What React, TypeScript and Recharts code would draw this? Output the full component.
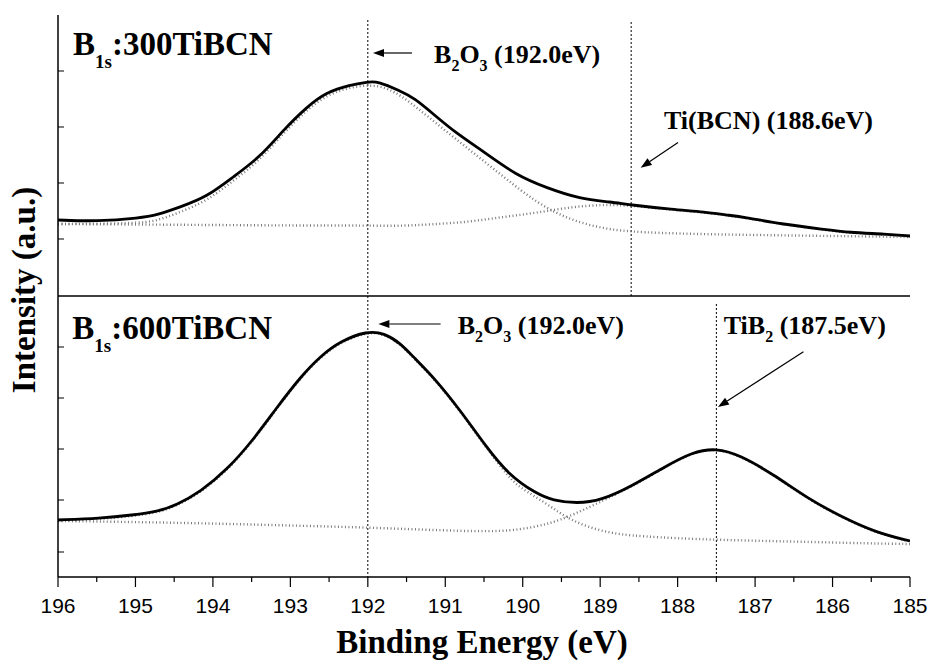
import React from 'react';
import { ComposedChart, Line, XAxis, YAxis, ReferenceLine, ReferenceDot } from 'recharts';

// ---------- data (binding energy in eV, intensity in arbitrary units) ----------
// Sample 300TiBCN (upper panel)
const energy300 = [196, 195.5, 194.94, 194.72, 194.42, 194.08, 193.74, 193.39, 193.09, 192.79, 192.53, 192.23, 192.0, 191.88, 191.58, 191.4, 191.14, 190.88, 190.48, 190.09, 189.69, 189.26, 188.86, 188.6, 188.07, 187.64, 187.37, 187.15, 186.67, 186.1, 185.79, 185.31, 185.0];
const measured300 = [76, 74.5, 78, 81, 89, 99, 119, 139, 166, 189, 204, 211, 214, 215, 205, 198, 181, 164, 143, 121, 108, 97, 94, 91, 86.5, 84, 81, 79, 72, 66.5, 63.5, 62, 60];

const energy300B2O3 = [196, 195, 194.72, 194.42, 194.08, 193.74, 193.39, 193.09, 192.79, 192.53, 192.23, 191.88, 191.58, 191.14, 190.7, 190.26, 189.82, 189.39, 188.95, 188.51, 187.5, 186.5, 185.5, 185];
const fit300B2O3 = [72, 72.5, 75, 84, 95, 115, 136, 163, 186, 201, 209, 212, 202, 174, 147, 120, 93, 76, 67, 63.5, 61.5, 60.5, 59.5, 59];

const energy300TiBCN = [196, 195, 194, 193, 192, 191.58, 191.2, 190.7, 190.26, 189.83, 189.39, 188.95, 188.6, 188.07, 187.64, 187.37, 187.15, 186.67, 186.1, 185.79, 185.31, 185];
const fit300TiBCN = [72, 71.5, 71, 70.5, 70.5, 70, 71.5, 74, 79, 83, 89, 91.5, 90.5, 86, 83.5, 80.5, 78.5, 72, 66, 63, 61.5, 59.5];

// Sample 600TiBCN (lower panel)
const energy600 = [196, 195.46, 195.03, 194.72, 194.47, 194.16, 193.82, 193.48, 193.17, 192.87, 192.61, 192.35, 192.01, 191.79, 191.58, 191.4, 191.14, 190.79, 190.48, 190.18, 189.83, 189.61, 189.3, 188.99, 188.6, 188.16, 187.81, 187.5, 187.2, 186.76, 186.32, 185.88, 185.44, 185.0];
const measured600 = [57, 58.7, 62, 65.3, 72, 85.3, 107, 137, 170, 200, 221, 236, 246, 244, 234, 219, 199, 165, 131, 102, 83.5, 76.5, 73.5, 76.5, 90.5, 110.5, 125, 129, 122, 102.5, 78.5, 60, 44.5, 36];

const energy600B2O3 = [196, 195.46, 195.03, 194.72, 194.47, 194.16, 193.82, 193.48, 193.17, 192.87, 192.61, 192.35, 192.01, 191.79, 191.58, 191.4, 191.14, 190.79, 190.48, 190.18, 190.05, 189.68, 189.39, 188.95, 188.51, 187.5, 186.5, 185.5, 185];
const fit600B2O3 = [56, 57.7, 61, 64.3, 71, 84.5, 106, 136, 169, 199, 220, 235, 245, 243, 233, 218, 198, 164, 130, 100, 90, 73, 56.5, 44.5, 40.5, 37, 35.5, 33.5, 33];

const energy600TiB2 = [196, 195, 194, 193, 192, 191, 190.26, 189.83, 189.52, 189.13, 188.78, 188.6, 188.16, 187.81, 187.5, 187.2, 186.76, 186.32, 185.88, 185.44, 185];
const fit600TiB2 = [56, 55, 53.5, 51.5, 49.5, 46.5, 45, 50, 56.5, 70, 83.5, 90, 110, 124.5, 128.5, 121.5, 102, 78, 59.5, 44, 35.5];

// ---------- axis ticks ----------
const energyTicks = [196, 195.5, 195, 194.5, 194, 193.5, 193, 192.5, 192, 191.5, 191, 190.5, 190, 189.5, 189, 188.5, 188, 187.5, 187, 186.5, 186, 185.5, 185];
const intensityTicks = [25, 77, 128, 179, 230, 338, 394, 450, 506];

const SERIF = '"Liberation Serif", "Times New Roman", Times, serif';
const SANS = '"Liberation Sans", Arial, Helvetica, sans-serif';

const zip = (es: number[], vs: number[]) => es.map((e, i) => ({ e, v: vs[i] }));

const pts300 = zip(energy300, measured300);
const pts300B2O3 = zip(energy300B2O3, fit300B2O3);
const pts300TiBCN = zip(energy300TiBCN, fit300TiBCN);
const pts600 = zip(energy600, measured600);
const pts600B2O3 = zip(energy600B2O3, fit600B2O3);
const pts600TiB2 = zip(energy600TiB2, fit600TiB2);

// ---------- annotation configuration ----------
type Part = [string, boolean?];
const notes: { axis: string; x: number; y: number; size: number; sub: number; subDy: number; parts: Part[] }[] = [
  { axis: 'top', x: 195.806, y: 241, size: 33, sub: 19, subDy: 13, parts: [['B'], ['1s', true], [':300TiBCN']] },
  { axis: 'bot', x: 195.815, y: 237.7, size: 33, sub: 19, subDy: 13, parts: [['B'], ['1s', true], [':600TiBCN']] },
  { axis: 'top', x: 191.145, y: 233.3, size: 26, sub: 16, subDy: 8, parts: [['B'], ['2', true], ['O'], ['3', true], [' (192.0eV)']] },
  { axis: 'top', x: 188.176, y: 167.2, size: 26, sub: 16, subDy: 8, parts: [['Ti(BCN) (188.6eV)']] },
  { axis: 'bot', x: 190.84, y: 243, size: 26, sub: 16, subDy: 8, parts: [['B'], ['2', true], ['O'], ['3', true], [' (192.0eV)']] },
  { axis: 'bot', x: 187.405, y: 243, size: 26, sub: 16, subDy: 8, parts: [['TiB'], ['2', true], [' (187.5eV)']] },
];

const arrows = [
  { axis: 'top', from: { x: 191.43, y: 243 }, to: { x: 191.933, y: 243 } },
  { axis: 'top', from: { x: 187.995, y: 153.6 }, to: { x: 188.477, y: 128.2 } },
  { axis: 'bot', from: { x: 191.06, y: 253 }, to: { x: 191.864, y: 253 } },
  { axis: 'bot', from: { x: 186.376, y: 225.3 }, to: { x: 187.479, y: 170 } },
];

const markers = [
  { axis: 'top', x: 192.0, top: 276 },
  { axis: 'top', x: 188.6, top: 274 },
  { axis: 'bot', x: 192.0, top: 281 },
  { axis: 'bot', x: 187.5, top: 273 },
];

function RichText({ x, y, parts, size, sub, subDy }: any) {
  let inSub = false;
  const spans = parts.map((p: Part, i: number) => {
    const isSub = !!p[1];
    const dy = isSub && !inSub ? subDy : !isSub && inSub ? -subDy : 0;
    inSub = isSub;
    return (
      <tspan key={i} dy={dy} fontSize={isSub ? sub : size}>
        {p[0]}
      </tspan>
    );
  });
  return (
    <text x={x} y={y} fontFamily={SERIF} fontWeight="bold" fontSize={size} fill="#000">
      {spans}
    </text>
  );
}

function ArrowShape(p: any) {
  const { x1, y1, x2, y2 } = p;
  const dx = x2 - x1;
  const dy = y2 - y1;
  const len = Math.hypot(dx, dy) || 1;
  const ux = dx / len;
  const uy = dy / len;
  const L = 11;
  const W = 4;
  const bx = x2 - ux * L;
  const by = y2 - uy * L;
  return (
    <g>
      <line x1={x1} y1={y1} x2={bx} y2={by} stroke="#000" strokeWidth={1.2} />
      <polygon points={`${x2},${y2} ${bx - uy * W},${by + ux * W} ${bx + uy * W},${by - ux * W}`} fill="#000" />
    </g>
  );
}

function BottomTick(props: any) {
  const { x, y, payload } = props;
  const v = payload.value;
  const major = Math.abs(v - Math.round(v)) < 1e-6;
  return (
    <g>
      <line x1={x} x2={x} y1={y} y2={y + (major ? 10 : 5)} stroke="#000" strokeWidth={1.2} />
      {major && (
        <text x={x} y={y + 36} textAnchor="middle" fontFamily={SANS} fontSize={21} fill="#000">
          {v}
        </text>
      )}
    </g>
  );
}

function TopTick(props: any) {
  const { x, y } = props;
  return <line x1={x} x2={x} y1={y} y2={y - 3} stroke="#000" strokeWidth={1} />;
}

function LeftTick(props: any) {
  const { x, y } = props;
  return <line x1={x} x2={x + 6} y1={y} y2={y} stroke="#000" strokeWidth={1} />;
}

function RightTick(props: any) {
  const { x, y } = props;
  return <line x1={x} x2={x + 3} y1={y} y2={y} stroke="#000" strokeWidth={1} />;
}

function XTitle() {
  return (
    <text x={482} y={653} textAnchor="middle" fontFamily={SERIF} fontWeight="bold" fontSize={33} fill="#000">
      Binding Energy (eV)
    </text>
  );
}

function YTitle() {
  return (
    <text
      x={35}
      y={290}
      transform="rotate(-90 35 290)"
      textAnchor="middle"
      fontFamily={SERIF}
      fontWeight="bold"
      fontSize={33}
      fill="#000"
    >
      Intensity (a.u.)
    </text>
  );
}

const fitStyle = { stroke: '#7a7a7a', strokeWidth: 2.4, strokeDasharray: '1 2.5' };

export default function App() {
  return (
    <div style={{ position: 'absolute', left: 0, top: 0, width: 933, height: 663, background: '#fff' }}>
      <ComposedChart width={933} height={663} margin={{ top: 15, right: 23, bottom: 0, left: 58 }}>
        <XAxis
          xAxisId="b"
          dataKey="e"
          type="number"
          domain={[185, 196]}
          reversed
          allowDataOverflow
          ticks={energyTicks}
          interval={0}
          tickSize={0}
          tickMargin={0}
          tickLine={false}
          tick={<BottomTick />}
          height={86}
          axisLine={{ stroke: '#000', strokeWidth: 1.5 }}
          label={<XTitle />}
        />
        <XAxis
          xAxisId="t"
          orientation="top"
          dataKey="e"
          type="number"
          domain={[185, 196]}
          reversed
          allowDataOverflow
          ticks={energyTicks}
          interval={0}
          tickSize={0}
          tickMargin={0}
          tickLine={false}
          tick={<TopTick />}
          height={0}
          axisLine={{ stroke: '#000', strokeWidth: 1.5 }}
        />
        <YAxis yAxisId="top" type="number" domain={[-281, 281]} hide allowDataOverflow />
        <YAxis
          yAxisId="bot"
          type="number"
          domain={[0, 562]}
          allowDataOverflow
          mirror
          ticks={intensityTicks}
          interval={0}
          tickSize={0}
          tickMargin={0}
          tickLine={false}
          tick={<LeftTick />}
          axisLine={{ stroke: '#000', strokeWidth: 1.5 }}
          label={<YTitle />}
        />
        <YAxis
          yAxisId="r"
          orientation="right"
          type="number"
          domain={[0, 562]}
          allowDataOverflow
          width={0}
          ticks={intensityTicks}
          interval={0}
          tickSize={0}
          tickMargin={0}
          tickLine={false}
          tick={<RightTick />}
          axisLine={{ stroke: '#000', strokeWidth: 1.5 }}
        />

        <ReferenceLine xAxisId="b" yAxisId="bot" y={281} stroke="#000" strokeWidth={1.5} />

        {markers.map((m, i) => (
          <ReferenceLine
            key={'m' + i}
            xAxisId="b"
            yAxisId={m.axis}
            segment={[{ x: m.x, y: m.top }, { x: m.x, y: 0 }]}
            stroke="#000"
            strokeWidth={1}
            strokeDasharray="2 2"
          />
        ))}

        <Line xAxisId="b" yAxisId="top" data={pts300B2O3} dataKey="v" type="basis" dot={false} activeDot={false} isAnimationActive={false} {...fitStyle} />
        <Line xAxisId="b" yAxisId="top" data={pts300TiBCN} dataKey="v" type="basis" dot={false} activeDot={false} isAnimationActive={false} {...fitStyle} />
        <Line xAxisId="b" yAxisId="bot" data={pts600B2O3} dataKey="v" type="basis" dot={false} activeDot={false} isAnimationActive={false} {...fitStyle} />
        <Line xAxisId="b" yAxisId="bot" data={pts600TiB2} dataKey="v" type="basis" dot={false} activeDot={false} isAnimationActive={false} {...fitStyle} />
        <Line xAxisId="b" yAxisId="top" data={pts300} dataKey="v" type="basis" stroke="#000" strokeWidth={2.8} dot={false} activeDot={false} isAnimationActive={false} />
        <Line xAxisId="b" yAxisId="bot" data={pts600} dataKey="v" type="basis" stroke="#000" strokeWidth={2.8} dot={false} activeDot={false} isAnimationActive={false} />

        {arrows.map((a, i) => (
          <ReferenceLine
            key={'a' + i}
            xAxisId="b"
            yAxisId={a.axis}
            segment={[a.from, a.to]}
            shape={(p: any) => <ArrowShape {...p} />}
          />
        ))}

        {notes.map((n, i) => (
          <ReferenceDot
            key={'n' + i}
            xAxisId="b"
            yAxisId={n.axis}
            x={n.x}
            y={n.y}
            r={0}
            shape={(p: any) => <RichText x={p.cx} y={p.cy} parts={n.parts} size={n.size} sub={n.sub} subDy={n.subDy} />}
          />
        ))}
      </ComposedChart>
    </div>
  );
}
